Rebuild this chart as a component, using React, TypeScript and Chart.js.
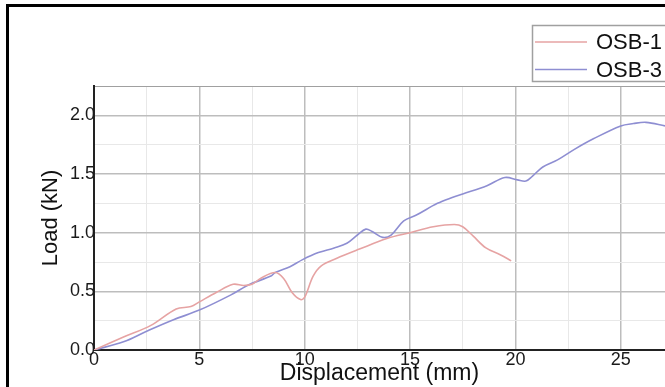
import React, { useEffect, useRef } from "react";
import { Chart, registerables } from "chart.js";

Chart.register(...registerables);

// ---- Data ----
const seriesLabels = ["OSB-1", "OSB-3"];

const osb1X = [0, 1.4, 2.7, 3.9, 4.6, 5.0, 5.8, 6.6, 7.1, 7.5, 7.9, 8.6, 9.0, 9.4, 9.8, 10.0, 10.4, 10.8, 11.5, 12.6, 13.9, 15.0, 16.1, 17.1, 17.5, 18.0, 18.6, 19.3, 19.8];
const osb1Y = [0, 0.11, 0.21, 0.35, 0.37, 0.41, 0.49, 0.56, 0.55, 0.56, 0.61, 0.66, 0.61, 0.49, 0.43, 0.45, 0.63, 0.72, 0.78, 0.86, 0.95, 1.0, 1.05, 1.07, 1.05, 0.97, 0.87, 0.81, 0.76];

const osb3X = [0, 1.4, 2.5, 3.8, 5.0, 6.5, 7.4, 8.4, 8.6, 9.3, 9.9, 10.65, 11.4, 12.0, 12.5, 12.9, 13.2, 13.7, 14.1, 14.7, 15.3, 16.3, 17.0, 17.5, 18.65, 19.5, 20.1, 20.5, 20.8, 21.3, 22.0, 22.8, 23.7, 25.0, 25.6, 26.2, 27.1];
const osb3Y = [0, 0.07, 0.16, 0.26, 0.34, 0.47, 0.56, 0.63, 0.66, 0.71, 0.77, 0.83, 0.87, 0.91, 0.98, 1.03, 1.01, 0.96, 0.98, 1.10, 1.15, 1.25, 1.30, 1.33, 1.40, 1.47, 1.45, 1.44, 1.48, 1.56, 1.62, 1.71, 1.80, 1.91, 1.93, 1.94, 1.91];

const xMajorTicks = [0, 5, 10, 15, 20, 25];
const yMajorTicks = [0, 0.5, 1.0, 1.5, 2.0];

const xTitle = "Displacement (mm)";
const yTitle = "Load (kN)";

const FONT = '"Liberation Sans", Arial, sans-serif';
const isIn = (arr: number[], v: number) => arr.some((a) => Math.abs(a - v) < 1e-6);

export default function App() {
  const ref = useRef<HTMLCanvasElement>(null);

  useEffect(() => {
    if (!ref.current) return;

    const framePlugin = {
      id: "frameAndLegend",
      beforeDraw(chart: any) {
        const ctx = chart.ctx;
        ctx.save();
        ctx.fillStyle = "#ffffff";
        ctx.fillRect(0, 0, chart.width, chart.height);
        ctx.restore();
      },
      afterDraw(chart: any) {
        const ctx = chart.ctx;
        ctx.save();
        // outer black frame (left + top)
        ctx.fillStyle = "#000000";
        ctx.fillRect(6, 4, 3, chart.height);
        ctx.fillRect(6, 4, chart.width, 3);
        // legend box
        ctx.fillStyle = "#ffffff";
        ctx.fillRect(532, 25, 140, 56);
        ctx.strokeStyle = "#a0a0a0";
        ctx.lineWidth = 1.5;
        ctx.strokeRect(532.5, 25.5, 140, 56);
        chart.data.datasets.forEach((ds: any, i: number) => {
          const y = 42 + i * 27.5;
          ctx.strokeStyle = ds.borderColor;
          ctx.lineWidth = 1.5;
          ctx.beginPath();
          ctx.moveTo(535, y);
          ctx.lineTo(587, y);
          ctx.stroke();
          ctx.fillStyle = "#111111";
          ctx.font = "22px " + FONT;
          ctx.textBaseline = "middle";
          ctx.textAlign = "left";
          ctx.fillText(ds.label, 596, y + 1);
        });
        ctx.restore();
      },
    };

    const chart = new Chart(ref.current, {
      type: "line",
      data: {
        datasets: [
          {
            label: seriesLabels[0],
            data: osb1X.map((x, i) => ({ x, y: osb1Y[i] })),
            borderColor: "#e6a3a3",
            borderWidth: 1.6,
            pointRadius: 0,
            tension: 0.35,
            fill: false,
          },
          {
            label: seriesLabels[1],
            data: osb3X.map((x, i) => ({ x, y: osb3Y[i] })),
            borderColor: "#8e8ed2",
            borderWidth: 1.6,
            pointRadius: 0,
            tension: 0.35,
            fill: false,
          },
        ],
      },
      options: {
        responsive: false,
        animation: false,
        events: [],
        layout: { padding: { top: 86, left: 0, right: 0, bottom: 0 } },
        plugins: {
          legend: { display: false },
          tooltip: { enabled: false },
        },
        scales: {
          x: {
            type: "linear",
            min: 0,
            max: 27.1,
            afterFit: (s: any) => {
              s.height = 37;
            },
            ticks: {
              stepSize: 2.5,
              includeBounds: false,
              autoSkip: false,
              maxRotation: 0,
              padding: 1,
              color: "#1a1a1a",
              font: { family: FONT, size: 18, lineHeight: 1 },
              callback: (v: any) => (isIn(xMajorTicks, Number(v)) ? String(v) : ""),
            },
            grid: {
              drawTicks: false,
              color: (c: any) => (isIn(xMajorTicks, c.tick?.value) ? "#bdbdbd" : "#e8e8e8"),
              lineWidth: (c: any) => (isIn(xMajorTicks, c.tick?.value) ? 1.5 : 1),
            },
            border: { display: true, color: "#222222", width: 2 },
            title: {
              display: true,
              text: xTitle,
              color: "#111111",
              font: { family: FONT, size: 23, lineHeight: 1 },
              padding: { top: 0, bottom: 1.5 },
            },
          },
          y: {
            type: "linear",
            min: 0,
            max: 2.25,
            afterFit: (s: any) => {
              s.width = 94;
            },
            ticks: {
              stepSize: 0.25,
              autoSkip: false,
              padding: -1,
              color: "#1a1a1a",
              font: { family: FONT, size: 18, lineHeight: 1 },
              callback: (v: any) => (isIn(yMajorTicks, Number(v)) ? Number(v).toFixed(1) : ""),
            },
            grid: {
              drawTicks: false,
              color: (c: any) => {
                const v = c.tick?.value;
                if (Math.abs(v - 2.25) < 1e-6) return "#a0a0a0";
                return isIn(yMajorTicks, v) ? "#bdbdbd" : "#e8e8e8";
              },
              lineWidth: (c: any) => (isIn(yMajorTicks, c.tick?.value) ? 1.5 : 1),
            },
            border: { display: true, color: "#222222", width: 2 },
            title: {
              display: true,
              text: yTitle,
              color: "#111111",
              font: { family: FONT, size: 22, lineHeight: 1 },
              padding: { top: 40, bottom: 0 },
            },
          },
        },
      },
      plugins: [framePlugin],
    });

    return () => chart.destroy();
  }, []);

  return (
    <>
      <style>{"html,body{margin:0;padding:0;overflow:hidden;background:#fff}"}</style>
      <div style={{ width: 665, height: 387, position: "relative" }}>
        <canvas ref={ref} width={665} height={387} style={{ display: "block" }} />
      </div>
    </>
  );
}
